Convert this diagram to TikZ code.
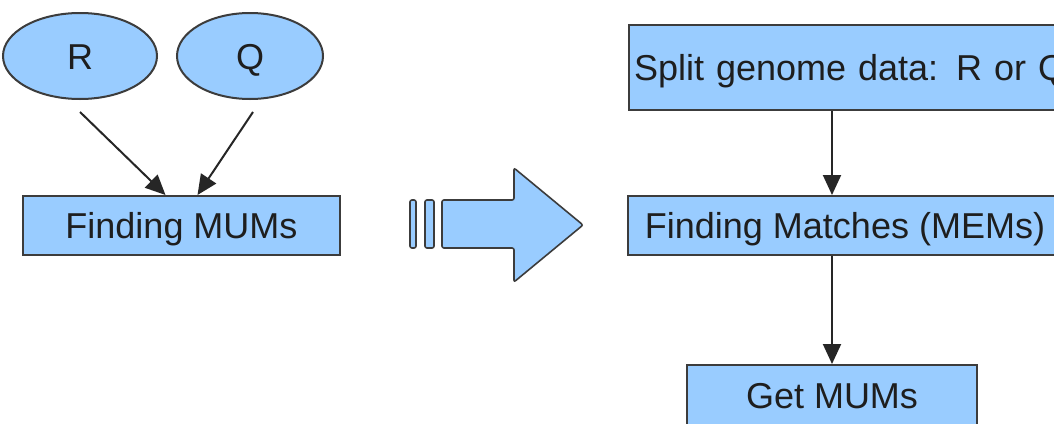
\documentclass[tikz,border=0pt]{standalone}
\usepackage{fontspec}
\setmainfont{Liberation Sans}
\usetikzlibrary{shapes.geometric,arrows.meta}
\definecolor{boxfill}{RGB}{153,204,255}
\definecolor{edge}{RGB}{60,60,60}
\definecolor{ink}{RGB}{30,30,30}
\begin{document}
\begin{tikzpicture}[x=0.5pt,y=-0.5pt,
  every node/.style={font=\fontsize{18pt}{20pt}\selectfont, text=ink,
    text height=13pt, text depth=0pt},
  oval/.style={ellipse, draw=edge, fill=boxfill, line width=1pt, inner sep=0pt},
  procbox/.style={rectangle, draw=edge, fill=boxfill, line width=1pt, inner sep=0pt},
  flow/.style={draw=black!85, line width=1pt, -{Triangle[length=10pt,width=9pt]}}]
\useasboundingbox (0,0) rectangle (1054,423);
\clip (0,0) rectangle (1054,423);
\fill[white] (0,0) rectangle (1054,423);

% left: inputs merged into one step
\node[oval, minimum width=77pt, minimum height=43pt] (R) at (80,56) {R};
\node[oval, minimum width=73pt, minimum height=43pt] (Q) at (250,56) {Q};
\node[procbox, minimum width=158.5pt, minimum height=29.5pt] (mums) at (181.5,225.5) {Finding MUMs};
\coordinate (rtail) at (80,112);
\coordinate (qtail) at (253,112);
\draw[flow] (rtail) -- ([xshift=-8pt]mums.north);
\draw[flow] (qtail) -- ([xshift=8pt]mums.north);

% transition arrow
\begin{scope}[draw=edge, fill=boxfill, line width=0.8pt, rounded corners=1pt]
  \filldraw (410,200) rectangle (416,248);
  \filldraw (425,200) rectangle (434,248);
  \filldraw (442,200) -- (514,200) -- (514,168) -- (583,225) -- (514,282)
    -- (514,248) -- (442,248) -- cycle;
\end{scope}

% right: split pipeline
\node[procbox, minimum height=42.5pt, text width=220pt, inner xsep=2.5pt, align=left, anchor=west]
  (split) at (628,67.5) {Split genome data: R or Q};
\node[procbox, minimum width=217pt, minimum height=29.5pt] (matches) at (845,225.5) {Finding Matches (MEMs)};
\node[procbox, minimum width=145pt, minimum height=30pt] (getmums) at (832,395) {Get MUMs};
\draw[flow] (split.south -| getmums.north) -- (matches.north -| getmums.north);
\draw[flow] (matches.south -| getmums.north) -- (getmums.north);
\end{tikzpicture}
\end{document}
